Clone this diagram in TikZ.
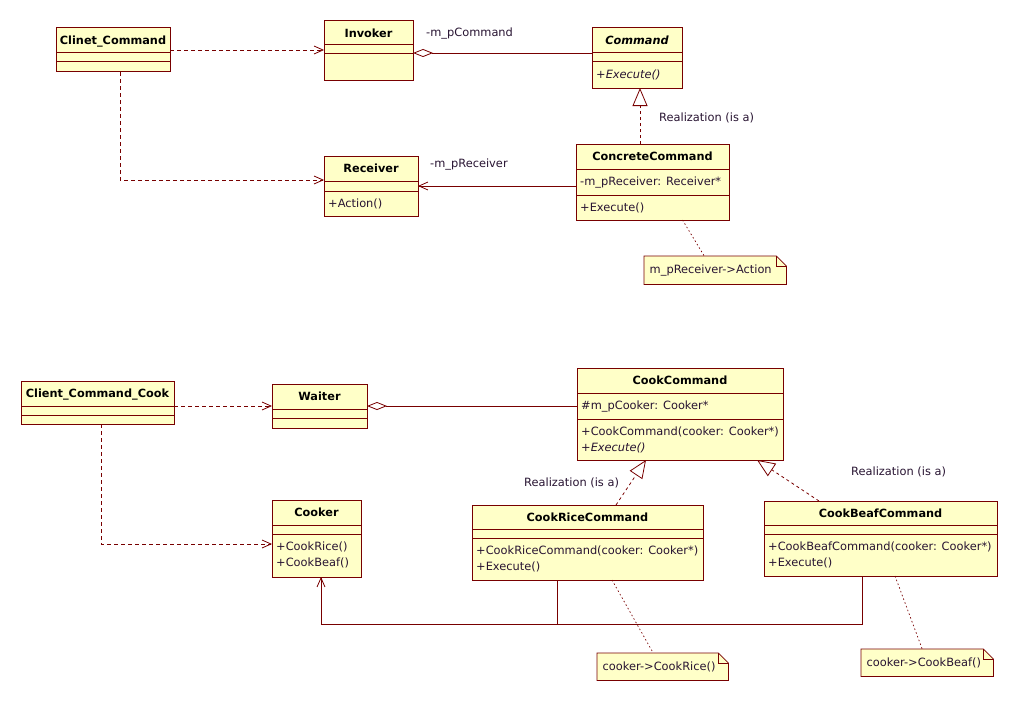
\documentclass[tikz,border=0pt]{standalone}
\usepackage{fontspec}
\setmainfont{DejaVu Sans}
\usepackage{tikz}
\usetikzlibrary{arrows.meta}
\usetikzlibrary{backgrounds}

\definecolor{umlfill}{RGB}{255,255,200}
\definecolor{umlline}{RGB}{120,0,0}
\definecolor{umltext}{RGB}{40,20,50}

\tikzset{
    umlbox/.style = {draw=umlline, fill=umlfill, line width=1pt, anchor=north west, inner sep=0pt, outer sep=0pt},
    umlname/.style = {font=\fontsize{11.3}{16}\selectfont\bfseries, text=black, inner sep=0pt, anchor=base},
    umlitem/.style = {anchor=north west, align=left, inner sep=0pt, text=umltext},
    umllabel/.style = {anchor=west, inner sep=0pt, text=umltext},
    umlnote/.style = {anchor=north west, align=left, inner xsep=5.5pt, inner ysep=0pt, text=umltext},
    conn/.style = {draw=umlline, line width=0.8pt},
    dep/.style = {conn, dash pattern=on 4pt off 3pt, -{Straight Barb[length=9pt,width=8pt]}},
    assoc/.style = {conn, -{Straight Barb[length=9pt,width=8pt]}},
    aggr/.style = {conn, {Diamond[open,length=20pt,width=8pt]}-},
    real/.style = {conn, dash pattern=on 3pt off 3pt, -{Triangle[open,length=18pt,width=15pt]}},
    notelink/.style = {conn, line width=0.7pt, dash pattern=on 1.5pt off 2.5pt}
}

% #1 name, #2 top left, #3 width, #4-#6 compartment heights, #7 title, #8 attributes, #9 operations
\newcommand{\umlclass}[9]{%
    \node (#1) [umlbox, minimum width=#3pt, minimum height=#4pt+#5pt+#6pt] at #2 {};
    \draw [umlline, line width=1pt] ([yshift=-#4pt]#1.north west) -- ([yshift=-#4pt]#1.north east);
    \draw [umlline, line width=1pt] ([yshift=-#4pt-#5pt]#1.north west) -- ([yshift=-#4pt-#5pt]#1.north east);
    \node (#1-t) [umlname] at ([yshift=-#4pt/2-4.2pt]#1.north) {#7};
    \node (#1-a) [umlitem] at ([shift={(4,#4+8)}]#1.north west) {#8};
    \node (#1-o) [umlitem] at ([shift={(4,#4+#5+8)}]#1.north west) {#9};
}

\begin{document}
\begin{tikzpicture}[x=1pt, y=-1pt, font=\fontsize{11.4}{16}\selectfont]
    \useasboundingbox (0,0) rectangle (1017,701);

    \umlclass{cc}{(56,28)}{114}{25}{9}{10}{Clinet\_Command}{}{}
    \umlclass{inv}{(324,21)}{89}{24}{9}{26}{Invoker}{}{}
    \umlclass{cmd}{(592,28)}{90}{25}{9}{26}{\itshape Command}{}{\itshape +Execute()}
    \umlclass{rcv}{(324,156)}{94}{25}{10}{25}{Receiver}{}{+Action()}
    \umlclass{ccmd}{(576,144)}{153}{25}{26}{25}{ConcreteCommand}{-m\_pReceiver: Receiver*}{+Execute()}

    \umlclass{ccc}{(21,381)}{153}{25}{9}{9}{Client\_Command\_Cook}{}{}
    \umlclass{wtr}{(272,384)}{95}{25}{9}{10}{Waiter}{}{}
    \umlclass{cook}{(272,500)}{89}{25}{9}{43}{Cooker}{}{+CookRice()\\+CookBeaf()}
    \umlclass{kcmd}{(577,368)}{206}{25}{26}{41}{CookCommand}{\#m\_pCooker: Cooker*}{+CookCommand(cooker: Cooker*)\\\textit{+Execute()}}
    \umlclass{rice}{(472,505)}{231}{24}{9}{42}{CookRiceCommand}{}{+CookRiceCommand(cooker: Cooker*)\\+Execute()}
    \umlclass{beaf}{(764,501)}{233}{24}{9}{42}{CookBeafCommand}{}{+CookBeafCommand(cooker: Cooker*)\\+Execute()}

    \node (n1) [umlnote, text width=131pt, minimum height=28pt] at (644,256) {m\_pReceiver->Action};
    \node (n2) [umlnote, text width=120pt, minimum height=27pt] at (597,653) {cooker->CookRice()};
    \node (n3) [umlnote, text width=121pt, minimum height=27pt] at (861,649) {cooker->CookBeaf()};

    \begin{scope}[on background layer]
        \foreach \n in {n1,n2,n3} {
            \draw [umlline, fill=umlfill, line width=0.8pt] (\n.north west) -- ([xshift=-10pt]\n.north east)
                -- ([yshift=-10pt]\n.north east) -- (\n.south east) -- (\n.south west) -- cycle;
            \draw [umlline, line width=0.6pt] ([xshift=-10pt]\n.north east) |- ([yshift=-10pt]\n.north east);
        }
    \end{scope}

    \draw [dep] (cc.east) -- (inv.west |- cc.east);
    \draw [dep] ([xshift=7pt]cc.south) |- ([yshift=6pt]rcv.west);
    \draw [aggr] ([yshift=-2.5pt]inv.east) -- ([yshift=5pt]cmd.west);
    \draw [real] ([xshift=-12.5pt]ccmd.north) -- ([xshift=3pt]cmd.south);
    \draw [assoc] (ccmd.west |- rcv.east) -- (rcv.east);
    \draw [notelink] ([xshift=30pt]ccmd.south) -- ([xshift=-11pt]n1.north);

    \draw [dep] (ccc.east |- wtr.west) -- (wtr.west);
    \draw [dep] ([xshift=3.5pt]ccc.south) |- ([yshift=-5.5pt]cook.west);
    \draw [aggr] (wtr.east) -- (kcmd.west |- wtr.east);
    \draw [real] ([xshift=28.5pt]rice.north) -- ([xshift=-34pt]kcmd.south);
    \draw [real] ([xshift=-61.5pt]beaf.north) -- ([xshift=77pt]kcmd.south);
    \draw [assoc] ([xshift=-18.5pt]beaf.south) -- ++(0,48) coordinate (bus) -| ([xshift=4.5pt]cook.south);
    \draw [conn] ([xshift=-30.5pt]rice.south) coordinate (rx) -- (rx |- bus);
    \draw [notelink] ([xshift=24.5pt]rice.south) -- ([xshift=-9.5pt]n2.north);
    \draw [notelink] ([xshift=14.5pt]beaf.south) -- ([xshift=-5pt]n3.north);

    \node (l1) [umllabel] at (426,34) {-m\_pCommand};
    \node (l2) [umllabel] at (430,165) {-m\_pReceiver};
    \node (l3) [umllabel] at (659,118) {Realization (is a)};
    \node (l4) [umllabel] at (524,483) {Realization (is a)};
    \node (l5) [umllabel] at (851,472) {Realization (is a)};
\end{tikzpicture}
\end{document}
